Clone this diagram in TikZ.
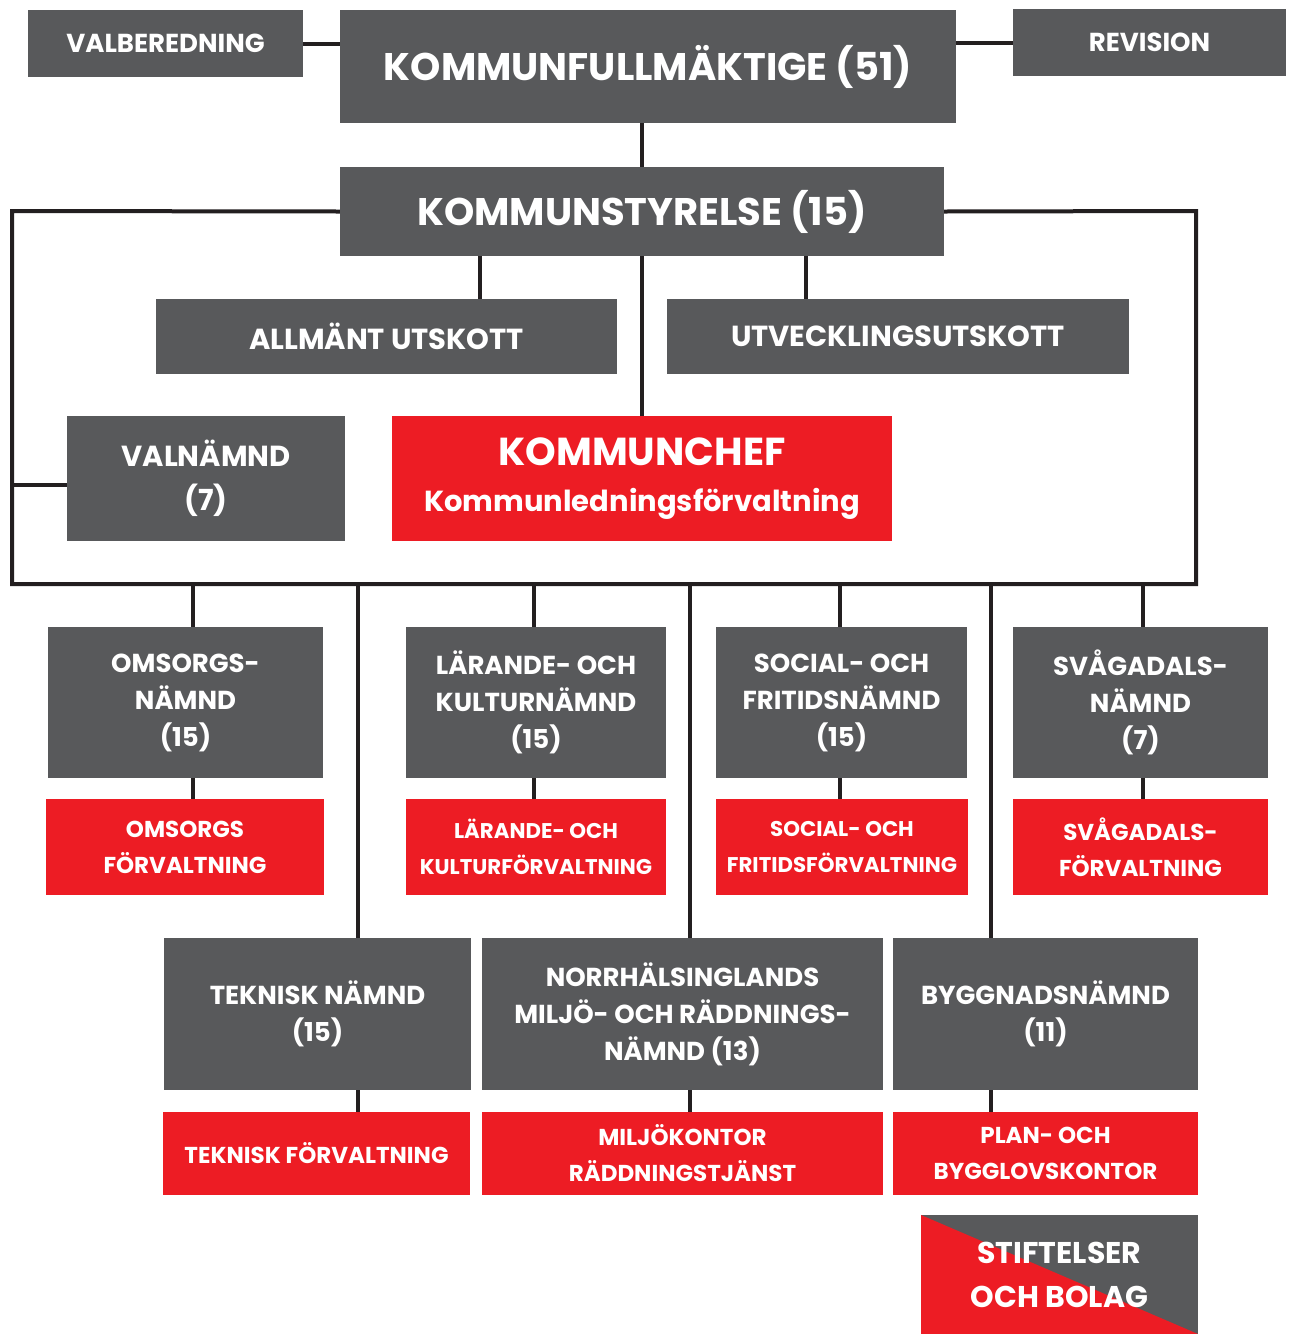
\documentclass[tikz,border=0pt]{standalone}
\usepackage{fontspec}
\setmainfont{Poppins}
\definecolor{kgray}{HTML}{58595B}
\definecolor{kred}{HTML}{ED1C24}
\definecolor{kline}{HTML}{231F20}

\begin{document}
\begin{tikzpicture}[x=1pt,y=-1pt,
		box/.style={fill=kgray,text=white,align=center,inner sep=0pt},
		redbox/.style={box,fill=kred},
		conn/.style={draw=kline,line width=4pt},
		fbig/.style={font=\fontsize{38.5}{46}\selectfont\bfseries},
		fmid/.style={font=\fontsize{29}{44}\selectfont\bfseries},
		fsm/.style={font=\fontsize{26}{30}\selectfont\bfseries},
		fnmd/.style={font=\fontsize{26}{37}\selectfont\bfseries},
		fred/.style={font=\fontsize{23}{36}\selectfont\bfseries},
		frednarrow/.style={font=\fontsize{21.3}{36}\selectfont\bfseries}]
	\useasboundingbox (0,0) rectangle (1292,1334);
	% Top: fullmaktige and styrelse
	\node[box,fsm,minimum width=275,minimum height=67] (valb) at (165.5,43.5) {VALBEREDNING};
	\node[box,fbig,minimum width=616,minimum height=113] (kf) at (648,66.5) {KOMMUNFULLMÄKTIGE (51)};
	\node[box,fsm,minimum width=273,minimum height=67] (rev) at (1149.5,42.5) {REVISION};
	\node[box,fbig,minimum width=604,minimum height=89] (ks) at (642,211.5) {KOMMUNSTYRELSE (15)};
	\node[box,fmid,minimum width=461,minimum height=75] (allm) at (386.5,336.5) {ALLMÄNT UTSKOTT};
	\node[box,fmid,minimum width=462,minimum height=75] (utv) at (898,336.5) {UTVECKLINGSUTSKOTT};
	\node[box,fmid,minimum width=278,minimum height=125] (valn) at (206,478.5) {VALNÄMND\\(7)};
	\node[redbox,font=\fontsize{29}{46}\selectfont\bfseries,minimum width=500,minimum height=125] (kc) at (642,478.5) {{\fontsize{39}{46}\selectfont KOMMUNCHEF}\\Kommunledningsförvaltning};
	% Nämnder with förvaltningar
	\node[box,fnmd,minimum width=275,minimum height=151] (omsN) at (185.5,702.5) {OMSORGS-\\NÄMND\\(15)};
	\node[redbox,fred,minimum width=278,minimum height=96] (omsF) at (185,847) {OMSORGS\\FÖRVALTNING};
	\node[box,fnmd,minimum width=260,minimum height=151] (larN) at (536,702.5) {LÄRANDE- OCH\\KULTURNÄMND\\(15)};
	\node[redbox,frednarrow,minimum width=260,minimum height=96] (larF) at (536,847) {LÄRANDE- OCH\\KULTURFÖRVALTNING};
	\node[box,fnmd,minimum width=251,minimum height=151] (socN) at (841.5,702.5) {SOCIAL- OCH\\FRITIDSNÄMND\\(15)};
	\node[redbox,frednarrow,minimum width=252,minimum height=96] (socF) at (842,847) {SOCIAL- OCH\\FRITIDSFÖRVALTNING};
	\node[box,fnmd,minimum width=255,minimum height=151] (svaN) at (1140.5,702.5) {SVÅGADALS-\\NÄMND\\(7)};
	\node[redbox,fred,minimum width=255,minimum height=96] (svaF) at (1140.5,847) {SVÅGADALS-\\FÖRVALTNING};
	\node[box,fnmd,minimum width=307,minimum height=152] (tekN) at (317.5,1014) {TEKNISK NÄMND\\(15)};
	\node[redbox,fred,minimum width=307,minimum height=83] (tekF) at (316.5,1153.5) {TEKNISK FÖRVALTNING};
	\node[box,fnmd,minimum width=401,minimum height=152] (norN) at (682.5,1014) {NORRHÄLSINGLANDS\\MILJÖ- OCH RÄDDNINGS-\\NÄMND (13)};
	\node[redbox,fred,minimum width=401,minimum height=83] (norF) at (682.5,1153.5) {MILJÖKONTOR\\RÄDDNINGSTJÄNST};
	\node[box,fnmd,minimum width=305,minimum height=152] (bygN) at (1045.5,1014) {BYGGNADSNÄMND\\(11)};
	\node[redbox,fred,minimum width=305,minimum height=83] (bygF) at (1045.5,1153.5) {PLAN- OCH\\BYGGLOVSKONTOR};
	\node[box,font=\fontsize{30}{44}\selectfont\bfseries,minimum width=277,minimum height=119,
		path picture={\fill[kred] (path picture bounding box.north west) -- (path picture bounding box.south east) -- (path picture bounding box.south west) -- cycle;}] (stift) at (1059.5,1274.5) {STIFTELSER\\OCH BOLAG};
	% Lines
	\coordinate (tl) at (12,211);
	\coordinate (bl) at (12,584);
	\coordinate (br) at (1196,584);
	\coordinate (tr) at (1196,211);
	\coordinate (ka) at (480,0);
	\coordinate (kb) at (806,0);
	\coordinate (kv) at (0,485);
	\draw[conn] (ks.west) -- (tl) -- (bl) -- (br) -- (tr) -- (ks.east);
	\draw[conn] (valb.east) -- (valb.east -| kf.west);
	\draw[conn] (rev.west) -- (rev.west -| kf.east);
	\draw[conn] (kf.south -| ks.north) -- (ks.north);
	\draw[conn] (ka |- ks.south) -- (ka |- allm.north);
	\draw[conn] (kb |- ks.south) -- (kb |- utv.north);
	\draw[conn] (ks.south) -- (kc.north);
	\draw[conn] (kv -| valn.west) -- (kv -| bl);
	\foreach \x/\n in {193/oms,534/lar,840/soc,1143/sva} {
		\coordinate (c\n) at (\x,584);
		\draw[conn] (c\n) -- (c\n |- \n N.north);
		\draw[conn] (c\n |- \n N.south) -- (c\n |- \n F.north);
	}
	\foreach \x/\n in {358/tek,690/nor,991/byg} {
		\coordinate (d\n) at (\x,584);
		\draw[conn] (d\n) -- (d\n |- \n N.north);
		\draw[conn] (d\n |- \n N.south) -- (d\n |- \n F.north);
	}
\end{tikzpicture}
\end{document}
